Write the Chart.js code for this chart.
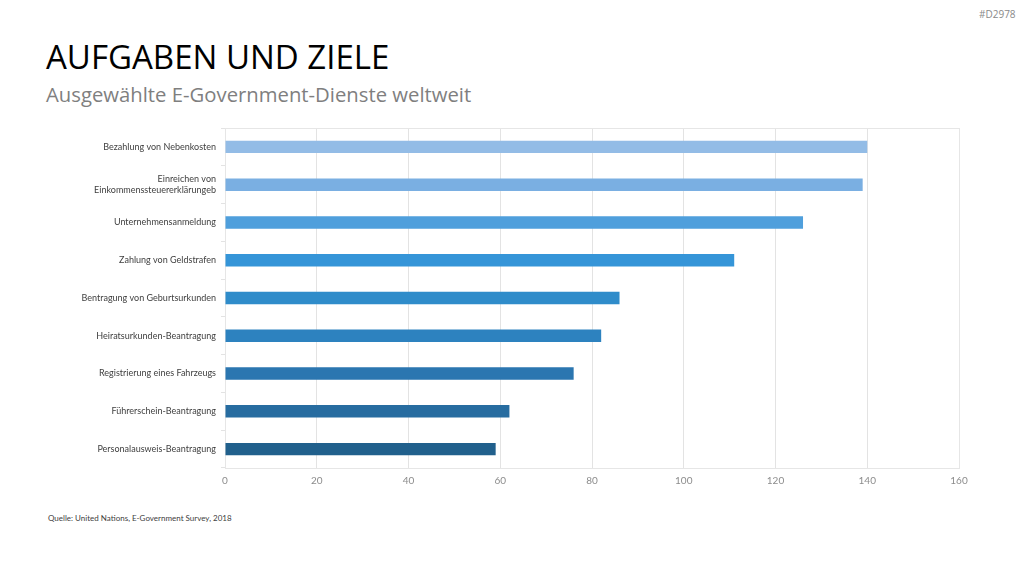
<!DOCTYPE html>
<html><head><meta charset="utf-8">
<script src="https://cdn.jsdelivr.net/npm/chart.js@4/dist/chart.umd.min.js"></script>
<style>
html,body{margin:0;padding:0;background:#fff;width:1024px;height:576px;overflow:hidden;font-family:"Open Sans",Lato,sans-serif;}
#wrap{position:absolute;left:0;top:0;width:1024px;height:576px;}
.t{position:absolute;white-space:nowrap;}
</style></head>
<body>
<div class="t" style="left:46px;top:34px;font-size:33px;color:#000;">AUFGABEN UND ZIELE</div>
<div class="t" style="left:46px;top:80px;font-size:20.3px;color:#7f7f7f;">Ausgewählte E-Government-Dienste weltweit</div>
<div class="t" style="left:979px;top:7px;font-size:10px;color:#8a8a8a;">#D2978</div>
<div class="t" style="left:48px;top:513px;font-size:8px;color:#404040;font-family:Lato,sans-serif;">Quelle: United Nations, E-Government Survey, 2018</div>
<div id="wrap"><canvas id="c" width="1024" height="576"></canvas></div>
<script>
const categories = [
  "Bezahlung von Nebenkosten",
  ["Einreichen von", "Einkommenssteuererklärungeb"],
  "Unternehmensanmeldung",
  "Zahlung von Geldstrafen",
  "Bentragung von Geburtsurkunden",
  "Heiratsurkunden-Beantragung",
  "Registrierung eines Fahrzeugs",
  "Führerschein-Beantragung",
  "Personalausweis-Beantragung"
];
const values = [140, 139, 126, 111, 86, 82, 76, 62, 59];
const barColors = ["#93bce6","#7aafe2","#4f9fdc","#3595d8","#2f8cca","#2d82bf","#2b76b0","#276ca0","#21608c"];
const xTicks = [0, 20, 40, 60, 80, 100, 120, 140, 160];

const frame = {
  id: 'frame',
  beforeDatasetsDraw(chart) {
    const a = chart.chartArea, ctx = chart.ctx;
    ctx.save();
    ctx.strokeStyle = '#e6e6e6';
    ctx.lineWidth = 1;
    ctx.strokeRect(a.left + 0.5, a.top + 0.5, a.right - a.left, a.bottom - a.top);
    ctx.restore();
  }
};

new Chart(document.getElementById('c'), {
  type: 'bar',
  data: {
    labels: categories,
    datasets: [{
      data: values,
      backgroundColor: barColors,
      borderWidth: 0,
      barPercentage: 0.33,
      categoryPercentage: 1
    }]
  },
  options: {
    indexAxis: 'y',
    responsive: false,
    animation: false,
    layout: { padding: { left: 0, top: 128, right: 65, bottom: 0 } },
    plugins: { legend: { display: false }, tooltip: { enabled: false } },
    scales: {
      x: {
        min: 0, max: 160,
        afterFit(s) { s.height = 108; },
        afterBuildTicks(s) { s.ticks = xTicks.map(v => ({ value: v })); },
        grid: { color: '#e3e3e3', drawTicks: false },
        border: { color: '#e3e3e3' },
        ticks: { color: '#8c8c8c', padding: 7, font: { family: 'Lato, "Open Sans", sans-serif', size: 10 } }
      },
      y: {
        afterFit(s) { s.width = 225; },
        grid: { drawOnChartArea: false, color: '#e3e3e3', tickLength: 4, offset: true },
        border: { color: '#e3e3e3' },
        ticks: { color: '#404040', padding: 5, font: { family: 'Lato, "Open Sans", sans-serif', size: 9 }, autoSkip: false }
      }
    }
  },
  plugins: [frame]
});
</script>
</body></html>
